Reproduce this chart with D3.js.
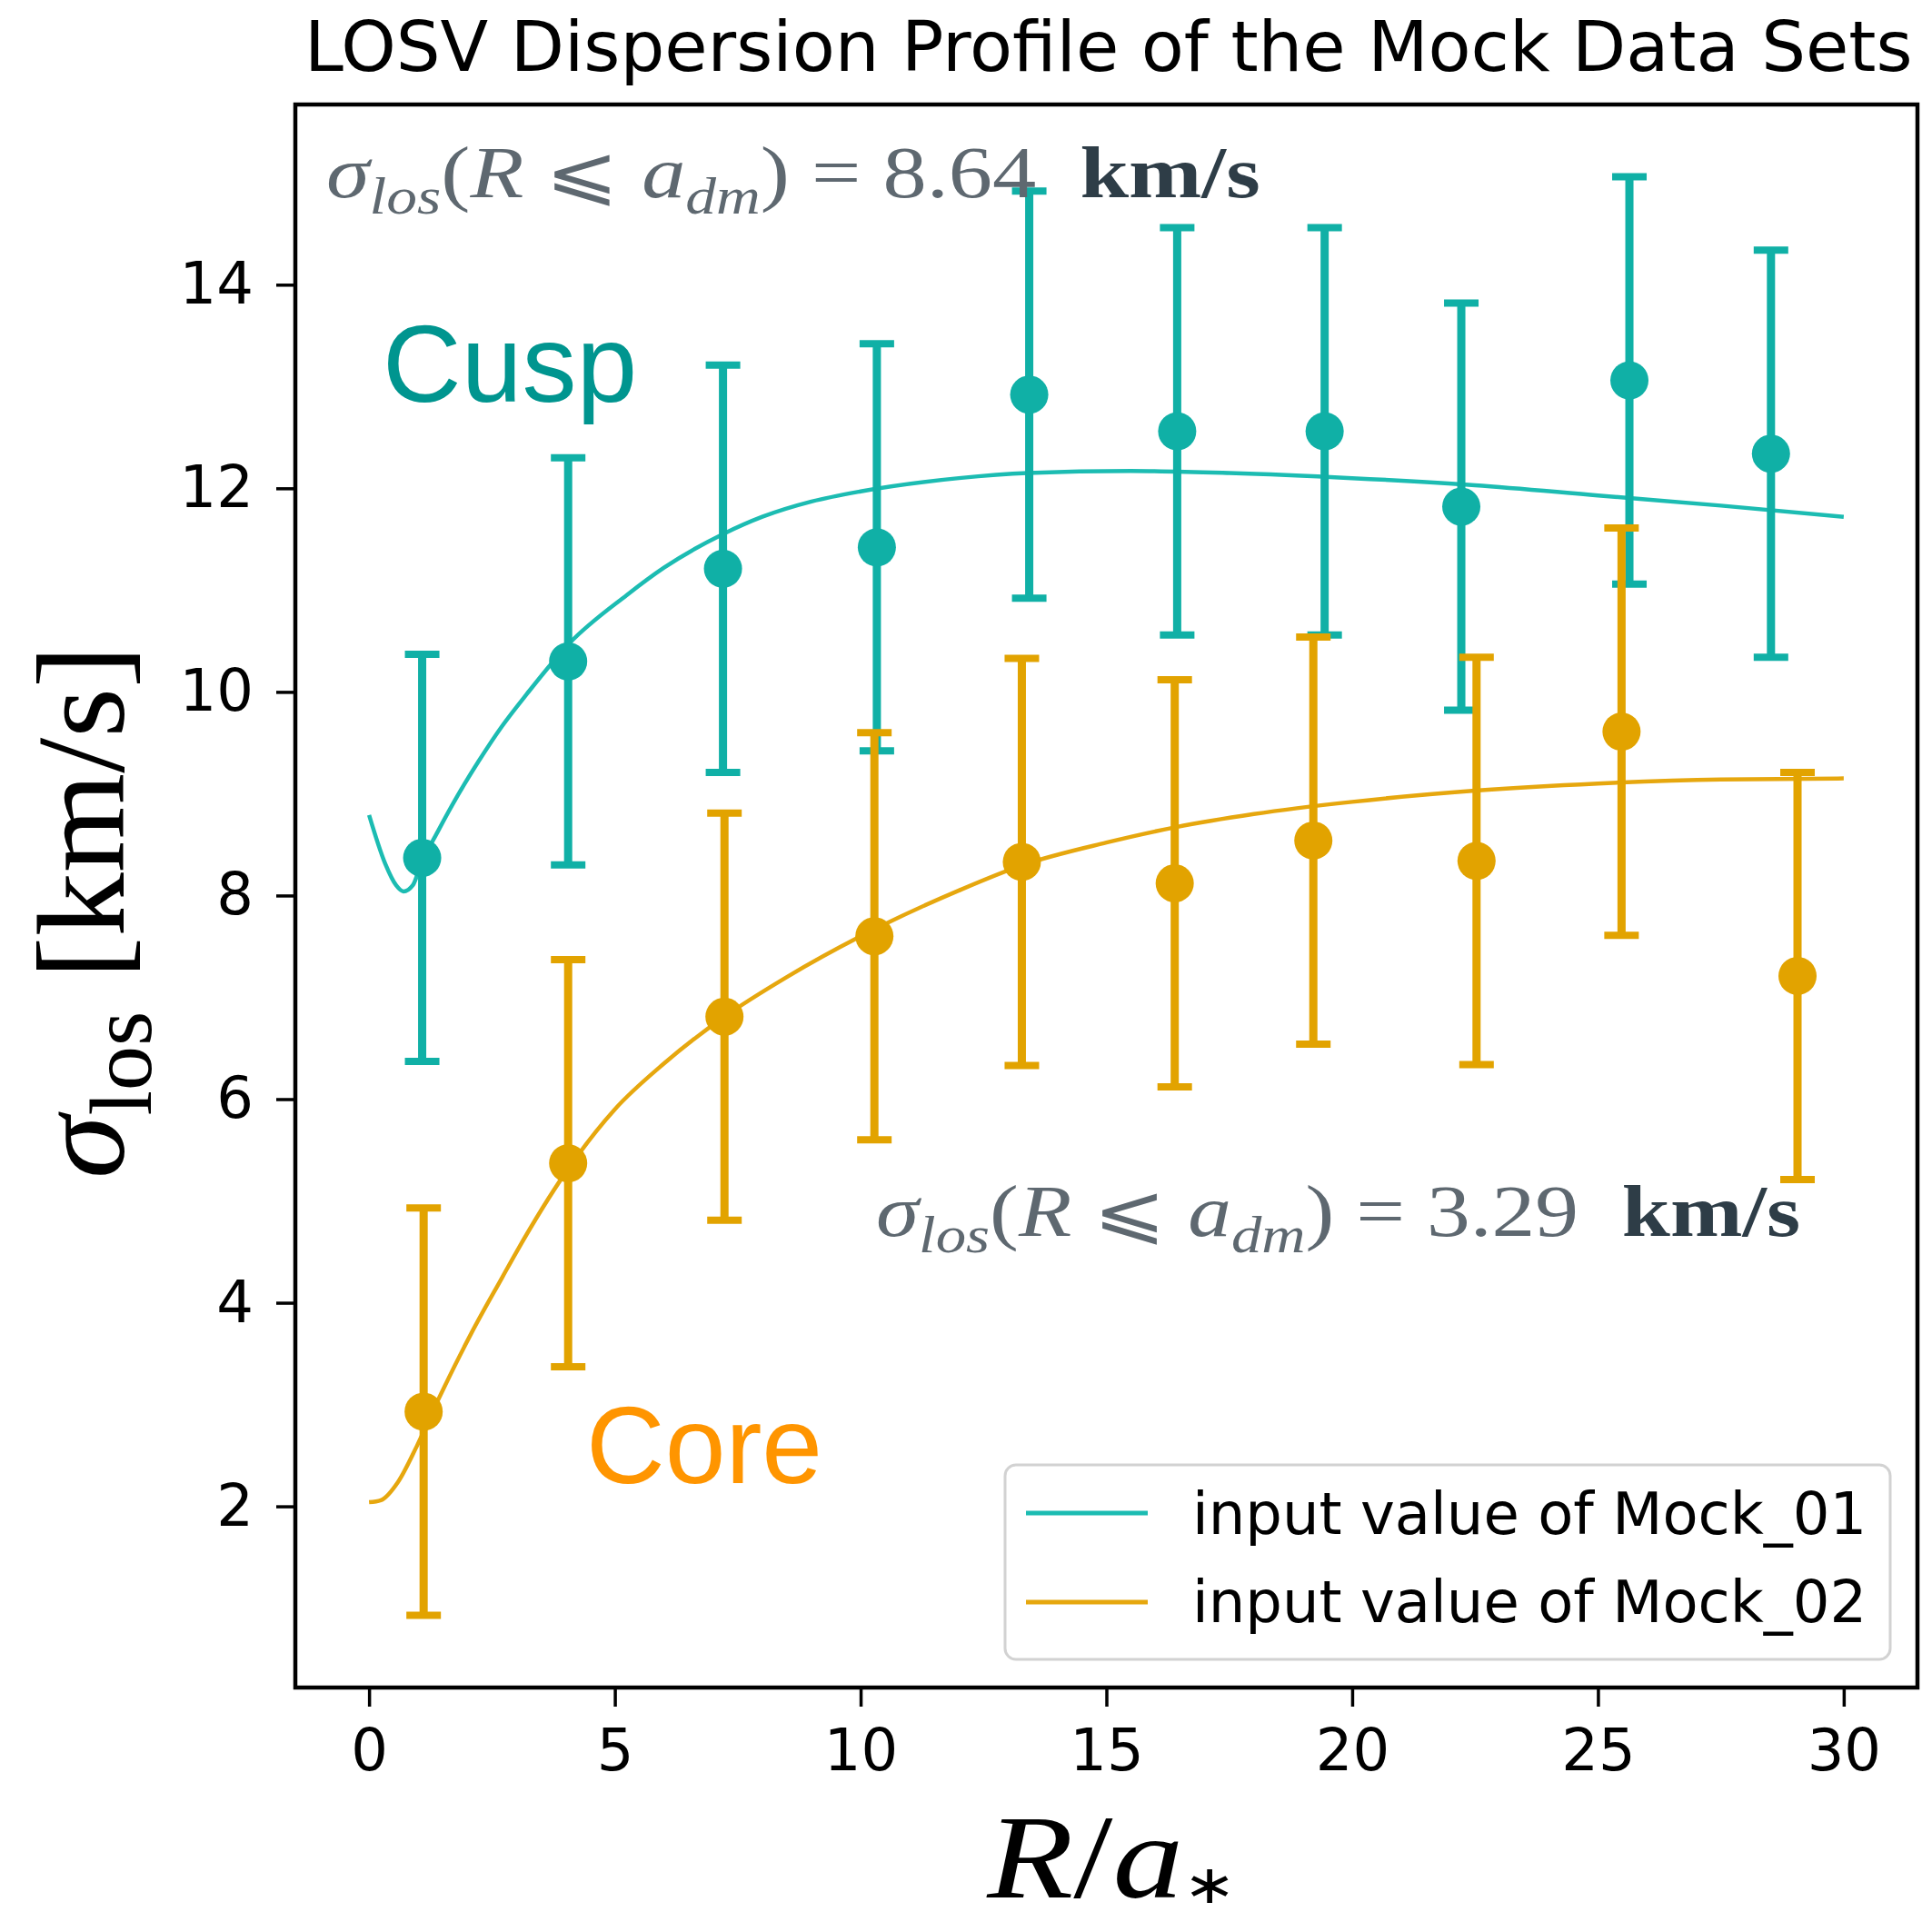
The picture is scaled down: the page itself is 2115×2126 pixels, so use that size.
<!DOCTYPE html>
<html>
<head>
<meta charset="utf-8">
<script src="https://cdn.jsdelivr.net/npm/d3@7"></script>
<style>
  html, body { margin: 0; padding: 0; background: #fff; }
  svg { display: block; }
</style>
</head>
<body>
<div id="chart"></div>
<script>
// mock data points (R/a*, sigma_los) with symmetric errors
const cuspX   = [1.08, 4.05, 7.2, 10.33, 13.43, 16.44, 19.44, 22.22, 25.64, 28.52];
const cuspY   = [8.37, 10.30, 11.21, 11.42, 12.92, 12.56, 12.56, 11.82, 13.06, 12.34];
const cuspErr = [2.0, 2.0, 2.0, 2.0, 2.0, 2.0, 2.0, 2.0, 2.0, 2.0];

const coreX   = [1.11, 4.05, 7.23, 10.28, 13.28, 16.39, 19.21, 22.53, 25.48, 29.06];
const coreY   = [2.93, 5.37, 6.81, 7.60, 8.33, 8.12, 8.54, 8.34, 9.61, 7.21];
const coreErr = [2.0, 2.0, 2.0, 2.0, 2.0, 2.0, 2.0, 2.0, 2.0, 2.0];

// input profiles
const cuspCurveX = [0, 0.33, 0.55, 0.7, 0.89, 1.05, 1.4, 1.8, 2.23, 2.7, 3.21, 4.08, 5.24, 6, 7.2, 8, 9, 10, 12, 13.4, 15.5, 17.5, 20, 22.5, 25, 27.5, 30];
const cuspCurveY = [8.79, 8.31, 8.1, 8.04, 8.1, 8.3, 8.63, 8.98, 9.32, 9.66, 9.98, 10.48, 10.95, 11.22, 11.55, 11.72, 11.87, 11.97, 12.1, 12.15, 12.17, 12.15, 12.1, 12.03, 11.93, 11.83, 11.72];

const coreCurveX = [0, 0.24, 0.59, 0.98, 1.4, 2.08, 2.71, 3, 4, 5, 6, 7.2, 8.5, 10, 12, 13.3, 15, 16.4, 18, 20, 22.5, 25, 27.5, 30];
const coreCurveY = [2.04, 2.06, 2.24, 2.6, 3.04, 3.7, 4.25, 4.5, 5.28, 5.9, 6.35, 6.8, 7.2, 7.6, 8.05, 8.3, 8.52, 8.67, 8.8, 8.92, 9.03, 9.1, 9.14, 9.15];

const xTicks = [0, 5, 10, 15, 20, 25, 30];
const yTicks = [2, 4, 6, 8, 10, 12, 14];
const legendLabels = ["input value of Mock_01", "input value of Mock_02"];
const annotValues = ["8.64", "3.29"];

const width = 2115, height = 2126;
const plot = { left: 325, right: 2110, top: 115, bottom: 1857 };

const teal = "#10b0a6", tealLine = "#1cbcb2";
const gold = "#e2a300", goldLine = "#e6a70e";

const svg = d3.select("#chart").append("svg")
    .attr("width", width)
    .attr("height", height);

const x = d3.scaleLinear().domain([-1.5, 31.5]).range([plot.left, plot.right]);
const y = d3.scaleLinear().domain([0.22, 15.77]).range([plot.bottom, plot.top]);

// helper: write a math-ish string from parts into a text element
function mathText(sel, parts) {
    let shifted = 0;
    parts.forEach(p => {
        const t = sel.append("tspan").text(p.t);
        if (p.italic) t.style("font-style", "italic");
        if (p.bold) t.style("font-weight", "bold");
        if (p.fill) t.attr("fill", p.fill);
        if (p.fs) t.style("font-size", p.fs + "em");
        if (p.sub) {
            if (!p.fs) t.style("font-size", "0.7em");
            const d = p.subDy != null ? p.subDy : 0.22 * p.size;
            t.attr("dy", d - shifted);
            shifted = d;
        } else if (shifted) {
            t.attr("dy", -shifted);
            shifted = 0;
        }
    });
    return sel;
}

// helper: stretch a text group to a given width
function fitWidth(g, x0, base, w, rotate) {
    const bb = g.node().getBBox();
    const s = w / bb.width;
    if (rotate) g.attr("transform", `translate(${x0},${base}) rotate(-90) scale(${s},1) translate(${-bb.x},0)`);
    else g.attr("transform", `translate(${x0},${base}) scale(${s},1) translate(${-bb.x},0)`);
}

// title
const title = svg.append("g");
title.append("text")
    .attr("font-family", "DejaVu Sans")
    .attr("font-size", 77)
    .text("LOSV Dispersion Profile of the Mock Data Sets");
fitWidth(title, 335, 78, 1770);

// curves
const line = d3.line().x(d => x(d[0])).y(d => y(d[1])).curve(d3.curveMonotoneX);
svg.append("path")
    .datum(d3.zip(cuspCurveX, cuspCurveY))
    .attr("d", line)
    .attr("fill", "none")
    .attr("stroke", tealLine)
    .attr("stroke-width", 4.5);
svg.append("path")
    .datum(d3.zip(coreCurveX, coreCurveY))
    .attr("d", line)
    .attr("fill", "none")
    .attr("stroke", goldLine)
    .attr("stroke-width", 4.5);

// error bars + markers
function errorSeries(xs, ys, es, color) {
    const data = d3.zip(xs, ys, es);
    const g = svg.append("g");
    g.selectAll(".bar").data(data).enter().append("line")
        .attr("x1", d => x(d[0])).attr("x2", d => x(d[0]))
        .attr("y1", d => y(d[1] - d[2])).attr("y2", d => y(d[1] + d[2]))
        .attr("stroke", color).attr("stroke-width", 9);
    [-1, 1].forEach(sgn => {
        g.selectAll(".cap" + sgn).data(data).enter().append("line")
            .attr("x1", d => x(d[0]) - 19).attr("x2", d => x(d[0]) + 19)
            .attr("y1", d => y(d[1] + sgn * d[2])).attr("y2", d => y(d[1] + sgn * d[2]))
            .attr("stroke", color).attr("stroke-width", 8);
    });
    g.selectAll("circle").data(data).enter().append("circle")
        .attr("cx", d => x(d[0])).attr("cy", d => y(d[1]))
        .attr("r", 21).attr("fill", color);
}
errorSeries(cuspX, cuspY, cuspErr, teal);
errorSeries(coreX, coreY, coreErr, gold);

// annotations
const mathGray = "#5e6870", unitDark = "#2e3d47";
function sigmaNote(val, x0, base, w) {
    const g = svg.append("g");
    const t = g.append("text")
        .attr("font-family", "Liberation Serif")
        .attr("font-size", 80)
        .attr("fill", mathGray);
    mathText(t, [
        { t: "σ", italic: 1 },
        { t: "los", italic: 1, sub: 1, size: 80 },
        { t: "(" },
        { t: "R", italic: 1 },
        { t: " ⩽ " },
        { t: "a", italic: 1 },
        { t: "dm", italic: 1, sub: 1, size: 80 },
        { t: ")" },
        { t: " = " + val + "\u2002" },
        { t: "km/s", bold: 1, fill: unitDark }
    ]);
    fitWidth(g, x0, base, w);
}
sigmaNote(annotValues[0], 359, 217, 1027);
sigmaNote(annotValues[1], 964, 1360, 1017);

// Cusp / Core labels
svg.append("text")
    .attr("x", 421).attr("y", 442)
    .attr("font-family", "Liberation Sans").attr("font-size", 120)
    .attr("fill", "#00958f")
    .text("Cusp");
svg.append("text")
    .attr("x", 645).attr("y", 1632)
    .attr("font-family", "Liberation Sans").attr("font-size", 120)
    .attr("fill", "#ff9500")
    .text("Core");

// legend
const leg = svg.append("g");
leg.append("rect")
    .attr("x", 1106).attr("y", 1612).attr("width", 974).attr("height", 214)
    .attr("rx", 12)
    .attr("fill", "#fff").attr("fill-opacity", 0.8)
    .attr("stroke", "#d2d2d2").attr("stroke-width", 3);
[[tealLine, 1665, 1688], [goldLine, 1763, 1785]].forEach((r, i) => {
    leg.append("line")
        .attr("x1", 1129).attr("x2", 1263).attr("y1", r[1]).attr("y2", r[1])
        .attr("stroke", r[0]).attr("stroke-width", 5);
    leg.append("text")
        .attr("x", 1312).attr("y", r[2])
        .attr("font-family", "DejaVu Sans").attr("font-size", 64)
        .text(legendLabels[i]);
});

// axes
const xAxis = d3.axisBottom(x).tickValues(xTicks).tickSize(21).tickPadding(25);
svg.append("g")
    .attr("transform", `translate(0,${plot.bottom})`)
    .call(xAxis)
    .call(g => g.select(".domain").remove())
    .call(g => g.selectAll(".tick line").attr("stroke", "#000").attr("stroke-width", 3.5))
    .call(g => g.selectAll("text").attr("font-family", "DejaVu Sans").attr("font-size", 64).attr("fill", "#000"));

const yAxis = d3.axisLeft(y).tickValues(yTicks).tickSize(21).tickPadding(25);
svg.append("g")
    .attr("transform", `translate(${plot.left},0)`)
    .call(yAxis)
    .call(g => g.select(".domain").remove())
    .call(g => g.selectAll(".tick line").attr("stroke", "#000").attr("stroke-width", 3.5))
    .call(g => g.selectAll("text").attr("font-family", "DejaVu Sans").attr("font-size", 64).attr("fill", "#000"));

// frame
svg.append("rect")
    .attr("x", plot.left).attr("y", plot.top)
    .attr("width", plot.right - plot.left).attr("height", plot.bottom - plot.top)
    .attr("fill", "none").attr("stroke", "#000").attr("stroke-width", 4.5);

// axis labels
const xl = svg.append("g");
const xlt = xl.append("text").attr("font-family", "Liberation Serif").attr("font-size", 132);
mathText(xlt, [
    { t: "R", italic: 1 },
    { t: "/" },
    { t: "a", italic: 1 },
    { t: "∗", sub: 1, fs: 0.45, subDy: 6 }
]);
fitWidth(xl, 1085, 2088, 275);

const yl = svg.append("g");
const ylt = yl.append("text").attr("font-family", "Liberation Serif").attr("font-size", 138);
mathText(ylt, [
    { t: "σ", italic: 1 },
    { t: "los", sub: 1, size: 138 },
    { t: " [km/s]" }
]);
fitWidth(yl, 136, 1297, 587, true);
</script>
</body>
</html>
